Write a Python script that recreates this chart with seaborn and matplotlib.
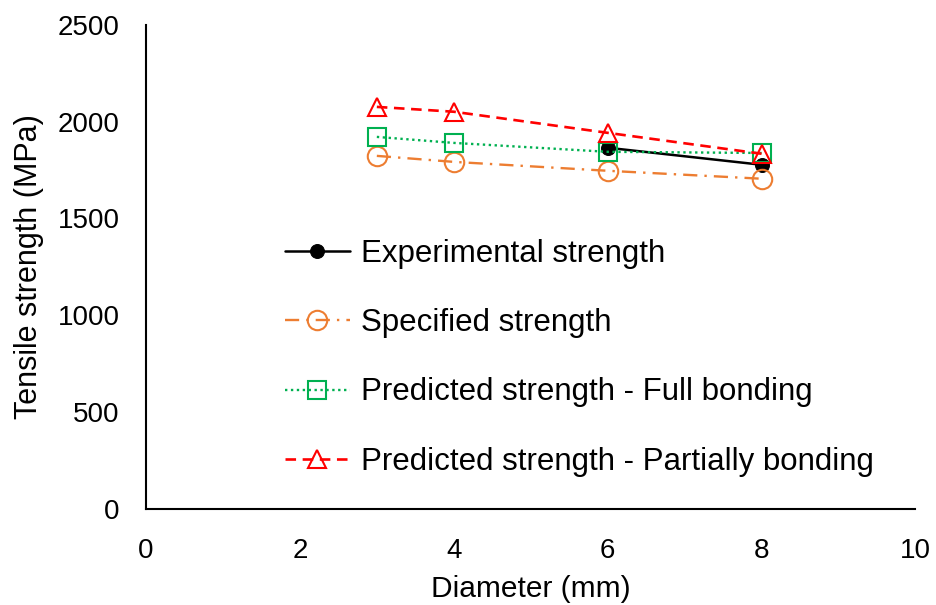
import matplotlib
matplotlib.use("Agg")
import matplotlib.pyplot as plt
import seaborn as sns
import pandas as pd

# Diameters (mm) and tensile strengths (MPa)
diam_exp = [6, 8]
exp_strength = [1865, 1777]

diam = [3, 4, 6, 8]
specified = [1823, 1792, 1746, 1705]
pred_full = [1921, 1890, 1844, 1838]
pred_partial = [2076, 2051, 1942, 1834]

labels = ["Experimental strength", "Specified strength",
          "Predicted strength - Full bonding",
          "Predicted strength - Partially bonding"]

sns.set_theme(style="white")
plt.rcParams["font.family"] = ["Liberation Sans", "DejaVu Sans"]
plt.rcParams["text.color"] = "black"
plt.rcParams["axes.labelcolor"] = "black"

fig = plt.figure(figsize=(9.36, 6.05), dpi=100)
ax = fig.add_axes([0.156, 0.159, 0.822, 0.80])

df_exp = pd.DataFrame({"d": diam_exp, "s": exp_strength})
df_spec = pd.DataFrame({"d": diam, "s": specified})
df_full = pd.DataFrame({"d": diam, "s": pred_full})
df_part = pd.DataFrame({"d": diam, "s": pred_partial})

sns.lineplot(data=df_exp, x="d", y="s", ax=ax, color="black", lw=1.8,
             marker="o", markersize=10, markeredgecolor="black",
             label=labels[0])
sns.lineplot(data=df_spec, x="d", y="s", ax=ax, color="#ED7D31", lw=1.7,
             linestyle=(0, (6, 3, 1, 3)), marker="o", markersize=14,
             markerfacecolor="none", markeredgecolor="#ED7D31",
             markeredgewidth=1.5, label=labels[1])
sns.lineplot(data=df_full, x="d", y="s", ax=ax, color="#00B050", lw=1.7,
             linestyle=(0, (1, 1.5)), marker="s", markersize=13,
             markerfacecolor="none", markeredgecolor="#00B050",
             markeredgewidth=1.5, label=labels[2])
sns.lineplot(data=df_part, x="d", y="s", ax=ax, color="#FF0000", lw=1.9,
             linestyle=(0, (4, 2.5)), marker="^", markersize=12.5,
             markerfacecolor="none", markeredgecolor="#FF0000",
             markeredgewidth=1.5, label=labels[3])

ax.set_xlim(0, 10)
ax.set_ylim(0, 2500)
ax.set_xticks([0, 2, 4, 6, 8, 10])
ax.set_yticks([0, 500, 1000, 1500, 2000, 2500])
ax.tick_params(axis="both", labelsize=20, length=0, colors="black")
ax.tick_params(axis="x", pad=21)
ax.tick_params(axis="y", pad=19)
ax.set_xlabel("Diameter (mm)", fontsize=21.5, labelpad=8)
ax.set_ylabel("Tensile strength (MPa)", fontsize=22, labelpad=9.5)

for side in ["top", "right"]:
    ax.spines[side].set_visible(False)
for side in ["left", "bottom"]:
    ax.spines[side].set_color("black")
    ax.spines[side].set_linewidth(1.5)

ax.legend(loc="lower left", bbox_to_anchor=(0.18, 0.066), frameon=False,
          fontsize=22.5, labelspacing=1.26, handlelength=2.08,
          handletextpad=0.38, borderaxespad=0, borderpad=0)

fig.savefig("out.png", dpi=100)
